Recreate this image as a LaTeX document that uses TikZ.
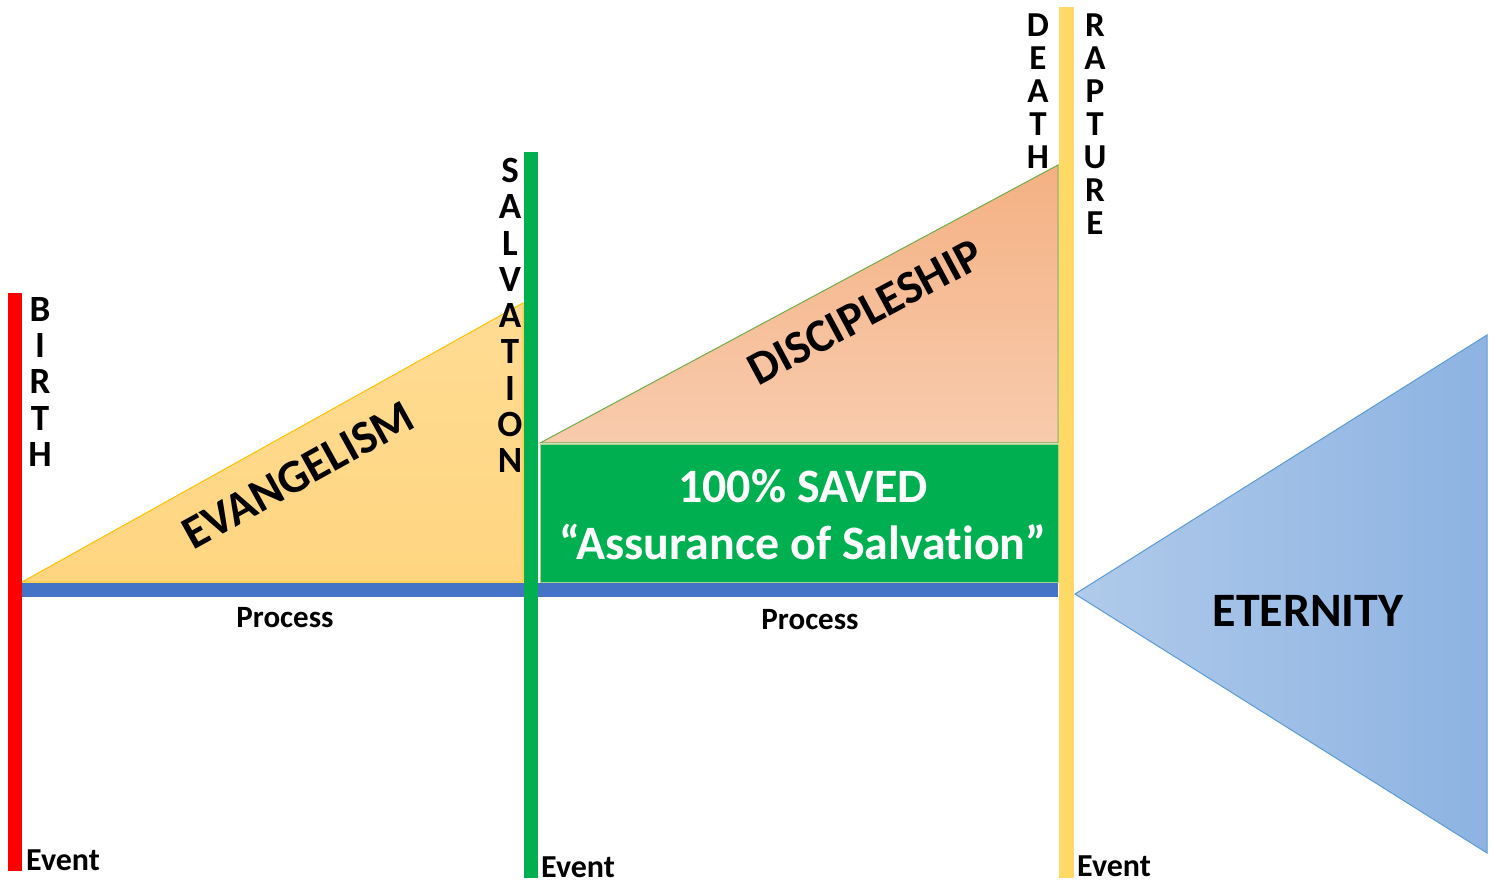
\documentclass[tikz,border=0pt]{standalone}
\usepackage{fontspec}
\setmainfont{Carlito}[Ligatures={NoCommon}]
\definecolor{cRed}{HTML}{FF0000}
\definecolor{cGreen}{HTML}{00B050}
\definecolor{cYellow}{HTML}{FFD966}
\definecolor{cBlue}{HTML}{4472C4}
\definecolor{cEvFill}{HTML}{FFD580}
\definecolor{cEvTop}{HTML}{FFDC94}
\definecolor{cEvLine}{HTML}{FFC000}
\definecolor{cDiTop}{HTML}{F4B183}
\definecolor{cDiMid}{HTML}{FBE5D6}
\definecolor{cDiBot}{HTML}{F8CBAD}
\definecolor{cDiLine}{HTML}{70AD47}
\definecolor{cRectLine}{HTML}{A9D18E}
\definecolor{cEtLeft}{HTML}{B0CAEA}
\definecolor{cEtRight}{HTML}{8DB3E2}
\definecolor{cEtLine}{HTML}{5B9BD5}
\tikzset{
  stack/.style={inner sep=0pt, anchor=north, align=center, font=\bfseries\fontsize{37}{36.3}\selectfont},
  stacksm/.style={inner sep=0pt, anchor=north, align=center, font=\bfseries\fontsize{35}{33}\selectfont},
  slopetxt/.style={inner sep=0pt, font=\bfseries\fontsize{47}{47}\selectfont},
  evtxt/.style={inner sep=0pt, anchor=base west, font=\bfseries\fontsize{32}{32}\selectfont},
  proctxt/.style={inner sep=0pt, font=\bfseries\fontsize{31}{31}\selectfont},
  boxtxt/.style={text=white, inner sep=0pt, font=\bfseries\fontsize{48}{48}\selectfont},
}
\begin{document}
\begin{tikzpicture}[x=1pt,y=-1pt]
\useasboundingbox (0,0) rectangle (1497,882);
% triangles
\path[top color=cEvTop, bottom color=cEvFill, draw=cEvLine, line width=1pt]
  (22,582) -- (523,303) -- (523,582) -- cycle;
\shade[top color=cDiTop, middle color=cDiMid, bottom color=cDiBot]
  (540,443) -- (1058,165) -- (1058,443) -- cycle;
\draw[cDiLine, line width=1pt] (540,443) -- (1058,165) -- (1058,443) -- cycle;
\path[left color=cEtLeft, right color=cEtRight, draw=cEtLine, line width=1pt]
  (1075,594) -- (1487,335) -- (1487,853) -- cycle;
% green box
\node[draw=cRectLine, fill=cGreen, line width=1pt, minimum width=518pt, minimum height=138pt, inner sep=0pt, anchor=north west] (box) at (540,444) {};
\node[boxtxt] (saved) at (803,486) {100\% SAVED};
\node[boxtxt] (assur) at (803,542) {“Assurance of Salvation”};
% blue process bar
\fill[cBlue] (22,583) rectangle (1058,597);
% vertical bars
\fill[cRed] (8,293) rectangle (22,871);
\fill[cGreen] (524,152) rectangle (538,878);
\fill[cYellow] (1059,7) rectangle (1074,878);
% vertical words
\node[stack] (birth) at (40,297) {B\\I\\R\\T\\H};
\node[stack] (salv) at (510,158) {S\\A\\L\\V\\A\\T\\I\\O\\N};
\node[stacksm] (death) at (1038,14) {D\\E\\A\\T\\H};
\node[stacksm] (rapt) at (1095,14) {R\\A\\P\\T\\U\\R\\E};
% slope texts
\node[slopetxt, rotate=29] (evang) at (298,475) {EVANGELISM};
\node[slopetxt, rotate=28.2] (disc) at (865,312) {DISCIPLESHIP};
% process
\node[proctxt] (p1) at (285,618) {Process};
\node[proctxt] (p2) at (810,620) {Process};
% events
\node[evtxt] (e1) at (26,870) {Event};
\node[evtxt] (e2) at (541,877) {Event};
\node[evtxt] (e3) at (1077,876) {Event};
% eternity
\node[inner sep=0pt, font=\bfseries\fontsize{48}{48}\selectfont] (etern) at (1308,611) {ETERNITY};
\end{tikzpicture}
\end{document}
